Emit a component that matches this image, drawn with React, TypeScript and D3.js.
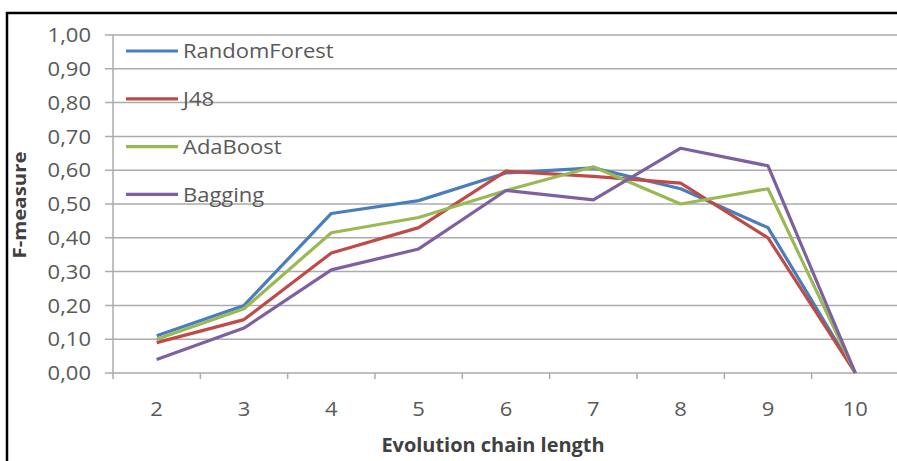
import React from "react";
import * as d3 from "d3";

const categories = ["2", "3", "4", "5", "6", "7", "8", "9", "10"];
const randomForest = [0.11, 0.2, 0.472, 0.51, 0.592, 0.607, 0.545, 0.43, 0.0];
const j48 = [0.09, 0.158, 0.355, 0.43, 0.597, 0.582, 0.562, 0.4, 0.0];
const adaBoost = [0.1, 0.19, 0.415, 0.46, 0.54, 0.61, 0.5, 0.545, 0.0];
const bagging = [0.04, 0.133, 0.305, 0.367, 0.54, 0.512, 0.665, 0.613, 0.0];
const seriesNames = ["RandomForest", "J48", "AdaBoost", "Bagging"];
const yTicks = [0, 0.1, 0.2, 0.3, 0.4, 0.5, 0.6, 0.7, 0.8, 0.9, 1.0];

const colors = ["#4A7EBB", "#BE4B48", "#98B954", "#7D60A0"];
const FONT = "'Open Sans', Lato, sans-serif";
const SX = 1.1;

export default function App() {
  const W = 897, H = 461;
  const left = 113, right = 899, top = 35, bottom = 373;
  const x = d3.scaleBand<string>().domain(categories).range([left, right]);
  const y = d3.scaleLinear().domain([0, 1]).range([bottom, top]);
  const series = [randomForest, j48, adaBoost, bagging];
  const line = d3
    .line<number>()
    .x((_, i) => (x(categories[i]) as number) + x.bandwidth() / 2)
    .y((d) => y(d));
  const fmt = (v: number) => v.toFixed(2).replace(".", ",");
  const boundaries = categories.map((c) => x(c) as number).concat([right]);

  return (
    <svg
      width={W}
      height={H}
      style={{ position: "absolute", left: 0, top: 0, background: "#fff" }}
    >
      <rect x={0} y={0} width={W} height={H} fill="#fff" />
      <rect x={7} y={13} width={W} height={H} fill="none" stroke="#000" strokeWidth={2.5} />
      {yTicks.map((t) => (
        <g key={t}>
          <line x1={105} x2={right} y1={y(t)} y2={y(t)} stroke="#ababab" strokeWidth={1.5} />
          <text
            transform={`translate(91,${y(t)}) scale(${SX},1)`}
            dy="0.36em"
            textAnchor="end"
            fontFamily={FONT}
            fontSize={20}
            fill="#595959"
          >
            {fmt(t)}
          </text>
        </g>
      ))}
      <line x1={left} x2={left} y1={top} y2={bottom} stroke="#ababab" strokeWidth={1.5} />
      {boundaries.map((b, i) => (
        <line key={i} x1={b} x2={b} y1={bottom} y2={bottom + 6} stroke="#ababab" strokeWidth={1.5} />
      ))}
      {categories.map((c) => (
        <text
          key={c}
          transform={`translate(${(x(c) as number) + x.bandwidth() / 2},416) scale(${SX},1)`}
          textAnchor="middle"
          fontFamily={FONT}
          fontSize={20}
          fill="#595959"
        >
          {c}
        </text>
      ))}
      {series.map((s, i) => (
        <path
          key={i}
          d={line(s) as string}
          fill="none"
          stroke={colors[i]}
          strokeWidth={3.2}
          strokeLinejoin="round"
        />
      ))}
      {seriesNames.map((n, i) => {
        const ly = 51 + i * 47.8;
        return (
          <g key={n}>
            <line x1={126} x2={178} y1={ly} y2={ly} stroke={colors[i]} strokeWidth={3.2} />
            <text
              transform={`translate(183,${ly}) scale(${SX},1)`}
              dy="0.36em"
              fontFamily={FONT}
              fontSize={20}
              fill="#595959"
            >
              {n}
            </text>
          </g>
        );
      })}
      <text
        transform={`translate(26,205) rotate(-90) scale(1.2,1)`}
        textAnchor="middle"
        fontFamily={FONT}
        fontWeight="bold"
        fontSize={17}
        fill="#404040"
      >
        F-measure
      </text>
      <text
        transform={`translate(493,452) scale(1.05,1)`}
        textAnchor="middle"
        fontFamily={FONT}
        fontWeight="bold"
        fontSize={19}
        fill="#404040"
      >
        Evolution chain length
      </text>
    </svg>
  );
}
